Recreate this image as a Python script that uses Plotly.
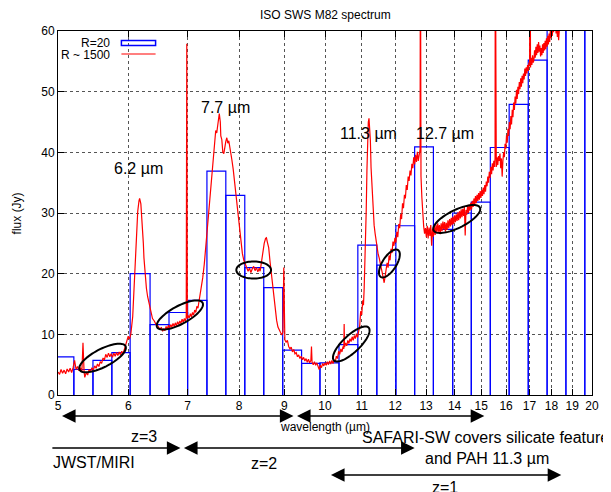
import numpy as np
import plotly.graph_objects as go

# ISO SWS M82, R ~ 1500 spectrum: wavelength (um) and flux (Jy)
wave_hr = [
    5.00, 5.02, 5.04, 5.06, 5.08, 5.10, 5.12, 5.14, 5.16, 5.18,
    5.20, 5.22, 5.24, 5.26, 5.28, 5.30, 5.32, 5.335, 5.35, 5.36,
    5.38, 5.40, 5.42, 5.44, 5.46, 5.48, 5.50, 5.52, 5.54, 5.56,
    5.58, 5.60, 5.62, 5.64, 5.66, 5.68, 5.70, 5.72, 5.74, 5.76,
    5.78, 5.80, 5.82, 5.84, 5.86, 5.88, 5.90, 5.92, 5.94, 5.96,
    5.98, 6.00, 6.02, 6.04, 6.07, 6.09, 6.11, 6.13, 6.15, 6.17,
    6.18, 6.20, 6.22, 6.24, 6.25, 6.27, 6.29, 6.31, 6.34, 6.37,
    6.39, 6.42, 6.45, 6.48, 6.51, 6.54, 6.56, 6.58, 6.60, 6.62,
    6.64, 6.66, 6.68, 6.70, 6.72, 6.74, 6.76, 6.78, 6.80, 6.82,
    6.84, 6.86, 6.88, 6.90, 6.92, 6.94, 6.96, 6.975, 6.985, 6.995,
    7.01, 7.03, 7.05, 7.07, 7.09, 7.11, 7.13, 7.15, 7.17, 7.19,
    7.21, 7.23, 7.25, 7.28, 7.31, 7.34, 7.37, 7.40, 7.43, 7.46,
    7.49, 7.51, 7.53, 7.55, 7.57, 7.59, 7.60, 7.62, 7.63, 7.65,
    7.67, 7.69, 7.71, 7.73, 7.75, 7.77, 7.79, 7.81, 7.83, 7.85,
    7.88, 7.90, 7.92, 7.95, 7.97, 8.00, 8.02, 8.05, 8.07, 8.10,
    8.13, 8.16, 8.19, 8.22, 8.25, 8.28, 8.31, 8.34, 8.37, 8.40,
    8.43, 8.45, 8.47, 8.49, 8.51, 8.54, 8.57, 8.59, 8.61, 8.64,
    8.67, 8.70, 8.73, 8.76, 8.79, 8.82, 8.85, 8.88, 8.91, 8.94,
    8.965, 8.985, 8.995, 9.01, 9.04, 9.07, 9.10, 9.13, 9.16, 9.19,
    9.22, 9.25, 9.28, 9.31, 9.34, 9.37, 9.40, 9.43, 9.46, 9.49,
    9.52, 9.55, 9.58, 9.61, 9.64, 9.655, 9.67, 9.70, 9.73, 9.76,
    9.79, 9.82, 9.85, 9.88, 9.91, 9.94, 9.97, 10.00, 10.03, 10.06,
    10.09, 10.12, 10.15, 10.18, 10.21, 10.24, 10.27, 10.30, 10.33, 10.36,
    10.39, 10.42, 10.45, 10.48, 10.50, 10.51, 10.52, 10.55, 10.58, 10.61,
    10.64, 10.67, 10.70, 10.73, 10.76, 10.79, 10.82, 10.85, 10.88, 10.91,
    10.94, 10.97, 11.00, 11.03, 11.05, 11.07, 11.09, 11.11, 11.13, 11.15,
    11.17, 11.19, 11.21, 11.23, 11.25, 11.27, 11.30, 11.33, 11.36, 11.39,
    11.42, 11.45, 11.48, 11.51, 11.54, 11.57, 11.60, 11.63, 11.66, 11.69,
    11.72, 11.75, 11.78, 11.81, 11.84, 11.87, 11.90, 11.93, 11.96, 11.99,
    12.02, 12.05, 12.08, 12.11, 12.14, 12.17, 12.20, 12.23, 12.26, 12.29,
    12.32, 12.35, 12.38, 12.41, 12.44, 12.47, 12.50, 12.53, 12.56, 12.59,
    12.62, 12.65, 12.68, 12.71, 12.74, 12.78, 12.80, 12.81, 12.83, 12.86,
    12.89, 12.92, 12.95, 12.98, 13.01, 13.04, 13.07, 13.10, 13.13, 13.16,
    13.19, 13.22, 13.25, 13.28, 13.31, 13.34, 13.37, 13.40, 13.43, 13.46,
    13.49, 13.52, 13.55, 13.58, 13.61, 13.64, 13.67, 13.70, 13.73, 13.76,
    13.79, 13.82, 13.85, 13.88, 13.91, 13.94, 13.97, 14.00, 14.03, 14.06,
    14.09, 14.12, 14.15, 14.18, 14.21, 14.24, 14.27, 14.30, 14.33, 14.36,
    14.39, 14.42, 14.45, 14.48, 14.51, 14.54, 14.57, 14.60, 14.63, 14.66,
    14.69, 14.72, 14.75, 14.78, 14.81, 14.84, 14.87, 14.90, 14.93, 14.96,
    14.99, 15.02, 15.05, 15.08, 15.11, 15.14, 15.17, 15.20, 15.23, 15.26,
    15.29, 15.32, 15.35, 15.38, 15.41, 15.44, 15.47, 15.50, 15.53, 15.55,
    15.56, 15.57, 15.60, 15.63, 15.66, 15.69, 15.72, 15.75, 15.78, 15.81,
    15.84, 15.87, 15.90, 15.93, 15.96, 15.99, 16.02, 16.05, 16.08, 16.11,
    16.14, 16.17, 16.20, 16.23, 16.26, 16.29, 16.32, 16.35, 16.38, 16.41,
    16.44, 16.47, 16.50, 16.53, 16.56, 16.59, 16.62, 16.65, 16.68, 16.71,
    16.74, 16.77, 16.80, 16.83, 16.86, 16.89, 16.92, 16.95, 16.98, 17.01,
    17.03, 17.05, 17.08, 17.11, 17.14, 17.17, 17.20, 17.23, 17.26, 17.29,
    17.32, 17.35, 17.38, 17.41, 17.44, 17.47, 17.50, 17.53, 17.56, 17.59,
    17.62, 17.65, 17.68, 17.71, 17.74, 17.77, 17.80, 17.83, 17.86, 17.89,
    17.92, 17.95, 17.98, 18.01, 18.04, 18.07, 18.10, 18.13, 18.16, 18.19,
    18.22, 18.25, 18.28, 18.31, 18.34, 18.37,
]
flux_hr = [
    3.8, 3.4, 4.2, 3.6, 4.1, 3.5, 4.3, 3.8, 4.4, 3.7,
    4.5, 5.7, 4.2, 4.7, 4.0, 4.5, 3.9, 8.6, 3.9, 2.9,
    3.7, 3.3, 4.2, 3.8, 4.5, 4.1, 4.8, 4.4, 5.1, 4.7,
    5.5, 5.2, 6.1, 5.8, 6.7, 6.2, 6.9, 6.3, 6.8, 6.2,
    6.9, 6.4, 7.0, 6.5, 7.1, 6.6, 7.2, 6.8, 7.5, 8.3,
    9.3, 9.7, 9.2, 10.0, 12.9, 17.0, 22.8, 27.5, 30.3, 32.0,
    32.4, 31.5, 29.0, 25.0, 22.6, 19.8, 17.6, 16.2, 14.8, 13.4,
    12.6, 12.2, 11.6, 11.4, 10.9, 11.1, 10.5, 10.9, 10.6, 11.3,
    10.9, 11.5, 11.0, 11.6, 11.2, 11.8, 11.3, 11.9, 11.4, 12.1,
    11.6, 12.2, 11.8, 12.5, 12.0, 12.6, 12.2, 12.8, 57.9, 12.6,
    13.1, 12.7, 13.4, 12.9, 13.6, 13.2, 14.0, 13.6, 14.6, 14.3,
    15.4, 16.4, 17.6, 19.3, 21.6, 24.5, 27.8, 30.6, 33.2, 36.4,
    38.9, 41.5, 43.6, 43.2, 44.8, 45.3, 46.4, 45.0, 42.7, 42.1,
    40.0, 39.8, 41.2, 41.8, 42.4, 41.5, 41.9, 41.0, 40.2, 38.9,
    37.2, 35.6, 34.6, 32.4, 30.4, 28.1, 26.5, 24.6, 23.3, 22.2,
    21.5, 21.0, 20.4, 20.9, 20.2, 20.8, 21.2, 20.5, 21.0, 20.3,
    20.9, 20.4, 21.4, 22.6, 23.9, 25.0, 25.8, 25.9, 25.2, 24.3,
    22.0, 19.8, 17.6, 15.6, 13.8, 12.3, 11.2, 10.6, 10.3, 9.9,
    10.4, 21.0, 9.6, 9.1, 8.7, 9.0, 8.0, 7.6, 7.9, 7.1,
    7.5, 6.8, 7.0, 6.3, 6.6, 6.0, 6.4, 5.8, 6.2, 5.6,
    6.0, 5.4, 5.9, 5.3, 5.7, 8.0, 5.4, 5.0, 5.5, 4.9,
    5.3, 4.6, 4.2, 4.9, 4.5, 5.2, 4.8, 5.3, 4.9, 5.5,
    5.0, 5.6, 5.1, 5.7, 5.2, 5.8, 5.5, 6.4, 6.0, 7.2,
    6.7, 7.6, 7.1, 8.0, 7.6, 11.7, 7.9, 8.6, 8.1, 9.0,
    8.5, 9.3, 8.8, 9.6, 9.0, 9.8, 9.3, 10.1, 9.5, 10.4,
    11.2, 13.8, 13.2, 15.6, 14.8, 17.5, 20.8, 24.5, 30.5, 37.0,
    42.0, 45.0, 45.6, 44.2, 42.0, 37.5, 33.8, 30.4, 28.0, 26.6,
    25.2, 24.0, 23.2, 22.6, 21.4, 21.0, 20.2, 19.5, 18.5, 19.6,
    20.4, 21.8, 21.0, 23.0, 22.2, 24.1, 23.4, 25.3, 24.6, 25.9,
    25.1, 26.9, 26.0, 28.2, 27.5, 29.8, 29.0, 31.6, 30.8, 33.0,
    32.4, 34.6, 33.8, 36.0, 35.3, 37.0, 36.2, 38.1, 37.4, 39.2,
    38.0, 39.6, 38.4, 40.1, 38.6, 39.8, 40.5, 80.0, 36.0, 32.5,
    29.6, 27.8, 26.6, 27.5, 26.0, 27.9, 25.8, 27.6, 26.2, 28.0,
    24.6, 27.4, 26.1, 27.8, 26.4, 28.1, 26.7, 28.3, 26.9, 28.0,
    26.5, 28.3, 27.0, 28.6, 27.3, 28.5, 26.9, 28.4, 27.2, 28.8,
    27.5, 29.0, 27.8, 29.2, 28.0, 29.4, 28.2, 29.6, 28.5, 29.8,
    28.7, 30.1, 28.8, 30.3, 29.1, 30.6, 29.3, 30.7, 29.5, 31.0,
    26.3, 30.5, 29.7, 31.2, 30.0, 31.4, 30.4, 31.7, 30.6, 32.0,
    31.0, 32.4, 31.3, 32.8, 31.6, 33.0, 32.0, 33.3, 32.2, 33.6,
    32.5, 33.8, 32.8, 34.2, 33.1, 34.6, 33.5, 35.2, 34.4, 36.0,
    35.0, 36.8, 35.8, 37.6, 36.4, 38.2, 37.0, 38.6, 37.6, 39.0,
    80.0, 38.5, 37.6, 39.2, 37.9, 39.4, 38.6, 39.8, 37.4, 39.0,
    36.0, 38.6, 40.0, 39.2, 41.4, 40.6, 42.8, 41.6, 43.9, 42.7,
    45.0, 43.8, 46.0, 44.6, 47.0, 45.8, 48.2, 47.0, 49.2, 48.0,
    50.3, 48.8, 50.8, 49.6, 51.6, 50.4, 52.2, 50.8, 52.6, 51.4,
    53.0, 52.0, 53.8, 52.6, 54.0, 53.0, 54.4, 53.4, 54.8, 54.2,
    80.0, 54.0, 55.6, 54.4, 56.0, 54.8, 55.2, 56.8, 55.6, 57.4,
    56.0, 57.8, 56.4, 58.2, 56.6, 57.6, 55.8, 57.2, 56.0, 57.8,
    56.4, 58.0, 56.8, 58.4, 57.0, 58.8, 57.4, 59.2, 57.8, 59.6,
    58.2, 60.2, 58.8, 60.6, 59.2, 61.0, 59.8, 61.4, 60.2, 61.6,
    59.6, 61.0, 59.0, 60.4, 58.5, 60.0,
]

# R = 20 binned spectrum: bin edges (um) and flux per bin (Jy)
bin_edges = [
    4.96, 5.21, 5.475, 5.75, 6.03, 6.35, 6.67, 7.00, 7.36, 7.73,
    8.12, 8.53, 8.96, 9.41, 9.87, 10.37, 10.89, 11.44, 12.02, 12.62,
    13.25, 13.93, 14.62, 15.36, 16.13, 16.95, 17.80, 18.69, 19.63, 20.6,
]
bin_flux = [
    6.3, 4.2, 5.7, 7.0, 20.0, 11.6, 13.6, 15.6, 36.9, 32.9,
    21.0, 17.7, 7.4, 5.2, 5.3, 8.3, 24.7, 21.4, 27.9, 40.9,
    27.3, 30.0, 31.8, 40.8, 47.9, 55.2, 66.0, 72.0, 80.0,
]

x_ticks = list(range(5, 21))
y_ticks = [0, 10, 20, 30, 40, 50, 60]

# plot area in page pixels: left 58, right 597, top 31, bottom 395
# (the page body adds an 8 px margin, so the figure itself is shifted)
PAGE_PAD = 8


def fx(p):
    return (p - 58) / 539


def fy(p):
    return (395 - p) / 364


# boxes drawn as outlines
bar_x, bar_y = [], []
for lo, hi, h in zip(bin_edges[:-1], bin_edges[1:], bin_flux):
    bar_x += [lo, lo, hi, hi, None]
    bar_y += [0, h, h, 0, None]

fig = go.Figure()
fig.add_trace(go.Scatter(x=bar_x, y=bar_y, mode="lines",
                         line={"color": "#0000ff", "width": 1.2}, hoverinfo="skip"))
fig.add_trace(go.Scatter(x=wave_hr, y=flux_hr, mode="lines",
                         line={"color": "#ff0000", "width": 1.2}))

font = "Liberation Sans, Arial, sans-serif"
fig.update_layout(
    width=611 - PAGE_PAD, height=492 - PAGE_PAD,
    margin={"l": 58 - PAGE_PAD, "r": 14, "t": 31 - PAGE_PAD, "b": 97, "pad": 0},
    paper_bgcolor="white", plot_bgcolor="white",
    showlegend=False,
    font={"family": font, "size": 12, "color": "black"},
)
axis_style = dict(
    ticks="inside", ticklen=6, tickcolor="black", mirror="allticks",
    showline=True, linecolor="black", linewidth=1,
    showgrid=True, gridcolor="#555", griddash="dot", gridwidth=1,
    zeroline=False,
)
fig.update_xaxes(type="log", range=[np.log10(5), np.log10(20)],
                 tickmode="array", tickvals=x_ticks,
                 ticktext=[str(v) for v in x_ticks], **axis_style)
fig.update_yaxes(range=[0, 60], tickmode="array", tickvals=y_ticks, **axis_style)

shapes = []
# tilted ellipses around the continuum windows
ellipses = [
    (103, 358, 26, 9, 27), (181, 315, 26, 9, 28), (255.5, 270, 17.5, 8.5, 0),
    (354, 344, 24, 8.5, 43), (392.5, 263.5, 16, 7, 57), (460.5, 219, 26, 9, 26),
]
t = np.linspace(0, 2 * np.pi, 72)
for cx, cy, a, b, deg in ellipses:
    th = np.radians(deg)
    ex = cx + a * np.cos(t) * np.cos(th) + b * np.sin(t) * np.sin(th)
    ey = cy - a * np.cos(t) * np.sin(th) + b * np.sin(t) * np.cos(th)
    pts = [f"{fx(u):.4f},{fy(v):.4f}" for u, v in zip(ex, ey)]
    shapes.append(dict(type="path", xref="paper", yref="paper",
                       path="M" + " L".join(pts) + " Z",
                       line={"color": "black", "width": 2}))

# legend samples
shapes.append(dict(type="rect", xref="paper", yref="paper",
                   x0=fx(122), x1=fx(156.5), y0=fy(45.5), y1=fy(40.5),
                   line={"color": "#0000ff", "width": 1.5}))
shapes.append(dict(type="line", xref="paper", yref="paper",
                   x0=fx(122), x1=fx(156.5), y0=fy(54), y1=fy(54),
                   line={"color": "#ff0000", "width": 1.2}))
fig.update_layout(shapes=shapes)


def text(s, x, y, size=16, anchor="center", angle=0):
    fig.add_annotation(text=s, x=fx(x), y=fy(y), xref="paper", yref="paper",
                       showarrow=False, xanchor=anchor, yanchor="middle",
                       textangle=angle, font={"size": size, "family": font, "color": "black"})


def arrow(x0, x1, y, both=True):
    fig.add_annotation(x=fx(x1), y=fy(y), ax=fx(x0), ay=fy(y),
                       xref="x domain", yref="y domain", axref="x domain", ayref="y domain",
                       text="", showarrow=True, arrowhead=2, startarrowhead=2,
                       arrowside="end+start" if both else "end",
                       arrowsize=1.7, startarrowsize=1.7, arrowwidth=1.6,
                       arrowcolor="black", standoff=0, startstandoff=0)


text("ISO SWS M82 spectrum", 327.5, 15, size=12)
text("flux (Jy)", 17, 213, size=12, angle=-90)
text("wavelength (µm)", 327.5, 427, size=12)
text("R=20", 113, 43, size=12, anchor="right")
text("R ~ 1500", 113, 54.5, size=12, anchor="right")

text("6.2 µm", 139, 168)
text("7.7 µm", 227, 107)
text("11.3 µm", 371, 133)
text("12.7 µm", 449, 133)

arrow(60.5, 295.7, 416)
arrow(297.7, 488.3, 416)
arrow(50.8, 181.6, 448, both=False)
arrow(183.6, 418, 448)
arrow(332, 566, 475)

text("z=3", 144.5, 436)
text("SAFARI-SW covers silicate features", 363, 437, anchor="left")
text("and PAH 11.3 µm", 491, 458)
text("JWST/MIRI", 51, 462, anchor="left")
text("z=2", 266, 463)
text("z=1", 449, 487)

fig.write_html("out.html")
